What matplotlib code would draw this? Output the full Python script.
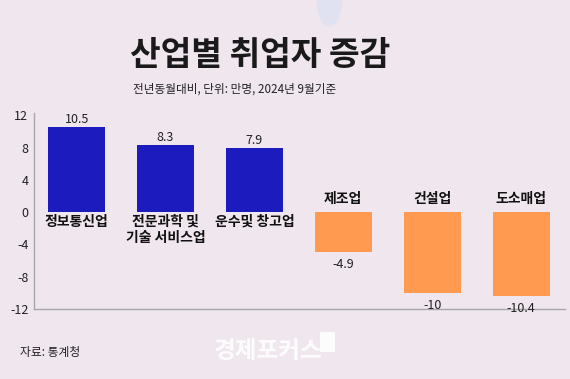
import numpy as np
import matplotlib.pyplot as plt
from matplotlib.patches import Ellipse, Rectangle

plt.rcParams['font.family'] = ['Noto Sans CJK KR', 'DejaVu Sans']

# data
categories = ['정보통신업', '전문과학 및\n기술 서비스업', '운수및 창고업', '제조업', '건설업', '도소매업']
values = [10.5, 8.3, 7.9, -4.9, -10, -10.4]
value_labels = ['10.5', '8.3', '7.9', '-4.9', '-10', '-10.4']
yticks = [12, 8, 4, 0, -4, -8, -12]

bg = '#EFE6EE'
blue = '#1C1CBE'
orange = '#FF9A50'

fig = plt.figure(figsize=(5.7, 3.79), dpi=100, facecolor=bg)

# faint decoration at the top
fig.patches.append(Ellipse((0.578, 1.0), 0.045, 0.14, transform=fig.transFigure,
                           facecolor='#DDE0F2', edgecolor='none', alpha=0.8))

ax = fig.add_axes([0.0596, 0.185, 0.931, 0.517])
ax.set_facecolor(bg)

x = np.arange(len(values))
colors = [blue if v > 0 else orange for v in values]
ax.bar(x, values, width=0.64, color=colors)

for i, (v, lab, cat) in enumerate(zip(values, value_labels, categories)):
    if v > 0:
        ax.text(i, v + 0.15, lab, ha='center', va='bottom', fontsize=9, color='#222222')
        ax.text(i, -0.3, cat, ha='center', va='top', fontsize=10, fontweight='bold',
                color='#111111', linespacing=1.25)
    else:
        ax.text(i, v - 0.8, lab, ha='center', va='top', fontsize=9, color='#222222')
        ax.text(i, 0.8, cat, ha='center', va='bottom', fontsize=10, fontweight='bold',
                color='#111111')

ax.set_xlim(-0.48, 5.49)
ax.set_ylim(-12, 12.3)
ax.set_yticks(yticks)
ax.set_yticklabels([str(t) for t in yticks], fontsize=9, color='#222222')
ax.set_xticks([])
ax.tick_params(axis='y', length=0, pad=4)
for s in ['top', 'right']:
    ax.spines[s].set_visible(False)
for s in ['left', 'bottom']:
    ax.spines[s].set_color('#A8A8A8')
    ax.spines[s].set_linewidth(1)

fig.text(0.456, 0.853, '산업별 취업자 증감', ha='center', va='center', fontsize=24,
         fontweight='bold', color='#1A1A1A')
fig.text(0.233, 0.766, '전년동월대비, 단위: 만명, 2024년 9월기준', ha='left', va='center',
         fontsize=8.4, color='#222222')
fig.text(0.035, 0.07, '자료: 통계청', ha='left', va='center', fontsize=8.5, color='#222222')
fig.text(0.47, 0.075, '경제포커스', ha='center', va='center', fontsize=17,
         fontweight='bold', color='white', alpha=0.9)
fig.patches.append(Rectangle((0.562, 0.07), 0.026, 0.055, transform=fig.transFigure,
                             facecolor='white', edgecolor='none', alpha=0.9))

fig.savefig('out.png', dpi=100, facecolor=bg)
